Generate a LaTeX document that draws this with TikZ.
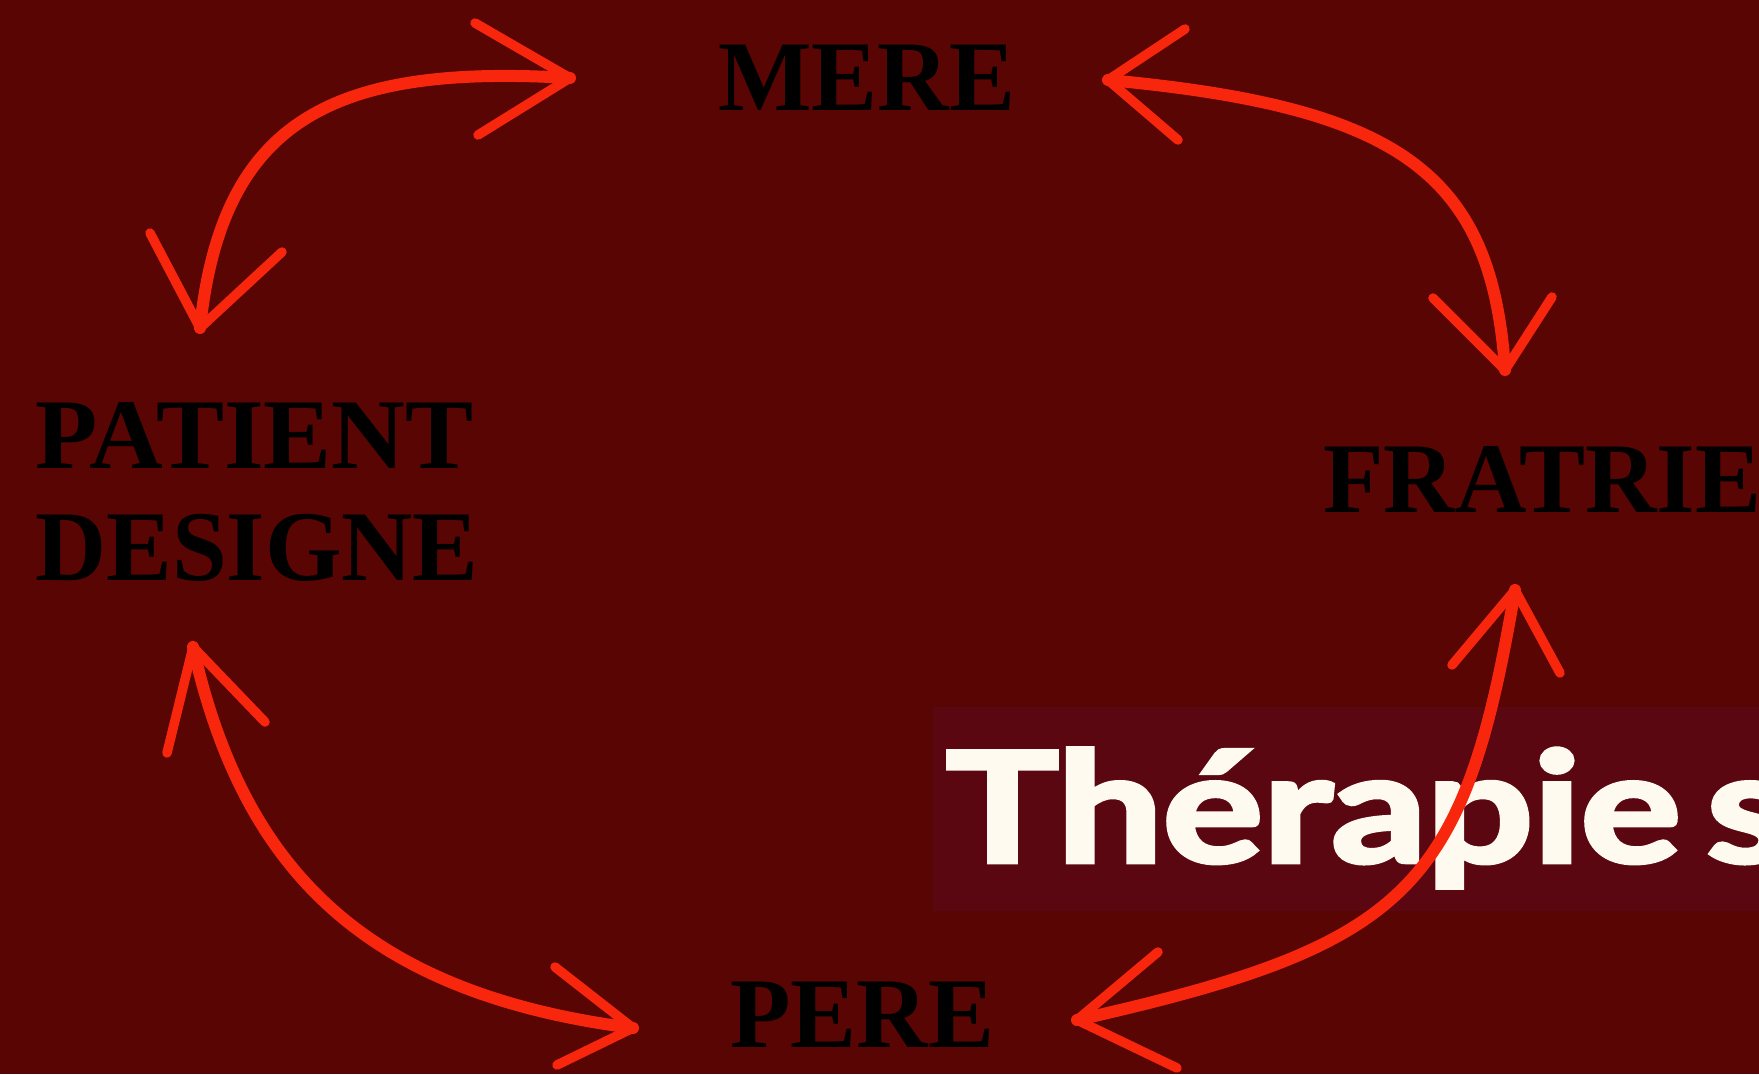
\documentclass[tikz,border=0pt]{standalone}
\usepackage{fontspec}
\setmainfont{Liberation Serif}
\newfontfamily\titlefont{Lato}[BoldFeatures={FakeBold=3}]
\definecolor{bg}{RGB}{88,5,3}
\definecolor{boxc}{RGB}{90,7,17}
\definecolor{arr}{RGB}{248,38,12}
\definecolor{cream}{RGB}{255,250,240}
\begin{document}
\begin{tikzpicture}[x=1pt,y=-1pt,
  lbl/.style={inner sep=0pt, anchor=base west, text=black,
    font=\fontsize{100}{112}\selectfont\bfseries},
  shaft/.style={draw=arr, line width=12pt, line cap=round, line join=round},
  barb/.style={draw=arr, line width=9.5pt, line cap=round, line join=round}]
\useasboundingbox[fill=bg] (0,0) rectangle (1759,1074);
% labels
\node[lbl] (mere) at (718,110) {\scalebox{0.99}[1]{MERE}};
\node[lbl] (patient) at (35,468) {\scalebox{1.02}[1]{PATIENT}};
\node[lbl] (designe) at (35,580) {\scalebox{0.985}[1]{DESIGNE}};
\node[lbl] (fratrie) at (1323,512) {\scalebox{0.99}[1]{FRATRIE}};
\node[lbl] (pere) at (730,1047) {\scalebox{0.99}[1]{PERE}};
% title box
\fill[boxc] (933,707) rectangle (1759,911);
\node[anchor=base west, inner sep=0pt, text=cream,
  font={\titlefont\fontsize{153}{160}\selectfont\bfseries}] (title) at (946,862)
  {\scalebox{1.225}[1]{Thérapie\hspace{-16pt} s}};
% arrow endpoints
\coordinate (a1s) at (570,78);  \coordinate (a1e) at (200,328);
\coordinate (a2s) at (1108,80); \coordinate (a2e) at (1505,370);
\coordinate (a3s) at (193,647); \coordinate (a3e) at (633,1028);
\coordinate (a4s) at (1515,590); \coordinate (a4e) at (1077,1020);
% MERE - PATIENT
\draw[shaft] (a1s) .. controls (335,64) and (222,118) .. (a1e);
\draw[barb] (475,23) -- (a1s) -- (478,135);
\draw[barb] (150,233) -- (a1e) -- (282,252);
% MERE - FRATRIE
\draw[shaft] (a2s) .. controls (1398,107) and (1492,172) .. (a2e);
\draw[barb] (1185,29) -- (a2s) -- (1178,140);
\draw[barb] (1433,298) -- (a2e) -- (1552,297);
% PATIENT - PERE
\draw[shaft] (a3s) .. controls (242,865) and (360,993) .. (a3e);
\draw[barb] (167,753) -- (a3s) -- (265,722);
\draw[barb] (555,967) -- (a3e) -- (557,1065);
% FRATRIE - PERE
\draw[shaft] (a4s) .. controls (1464,890) and (1410,945) .. (a4e);
\draw[barb] (1452,665) -- (a4s) -- (1560,673);
\draw[barb] (1158,952) -- (a4e) -- (1177,1068);
\end{tikzpicture}
\end{document}
